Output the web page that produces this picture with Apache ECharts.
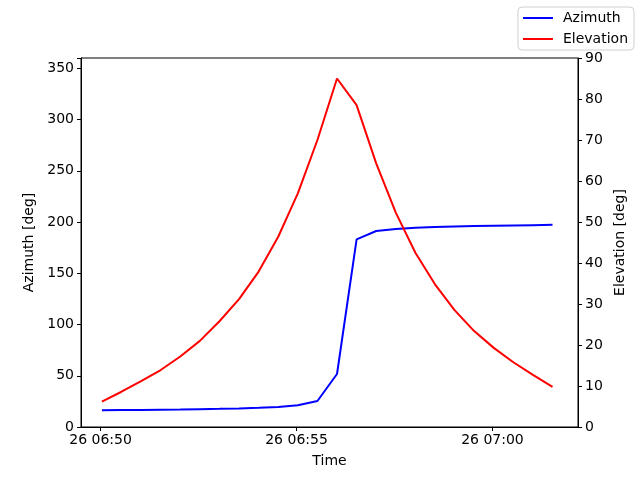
<!DOCTYPE html>
<html>
<head>
<meta charset="utf-8">
<script src="https://cdn.jsdelivr.net/npm/echarts@6/dist/echarts.min.js"></script>
<style>
  html, body { margin: 0; padding: 0; background: #fff; }
  #chartBox { width: 640px; height: 480px; }
</style>
</head>
<body>
<div id="chartBox"></div>
<script>
// sample times (day 26), every 30 s
const times = ['06:50:02','06:50:32','06:51:02','06:51:32','06:52:02','06:52:32',
  '06:53:02','06:53:32','06:54:02','06:54:32','06:55:02','06:55:32',
  '06:56:02','06:56:32','06:57:02','06:57:32','06:58:02','06:58:32',
  '06:59:02','06:59:32','07:00:02','07:00:32','07:01:02','07:01:32'];
const azimuth = [16.3, 16.5, 16.7, 16.9, 17.1, 17.4, 17.7, 18.1, 18.7, 19.6, 21.2, 25.4,
  51.7, 183.1, 191.2, 193.2, 194.5, 195.1, 195.7, 196.0, 196.3, 196.6, 196.9, 197.2];
const elevation = [6.2, 8.6, 11.2, 13.9, 17.2, 21.0, 25.8, 31.2, 37.9, 46.4, 57.0, 70.0,
  85.0, 78.5, 64.3, 52.3, 42.5, 34.8, 28.5, 23.4, 19.3, 15.8, 12.7, 9.8];
const timeTicks = ['06:50:00', '06:55:00', '07:00:00'];
const timeRange = ['06:49:30', '07:02:11'];

// times -> ms (UTC, 26th)
function toMs(t) {
  let p = t.split(':').map(Number);
  return Date.UTC(2024, 0, 26, p[0], p[1], p[2]);
}
function pad(n) { return (n < 10 ? '0' : '') + n; }

let xs = times.map(toMs);
let font = 'DejaVu Sans';

let myChart = echarts.init(document.getElementById('chartBox'));
let option = {
  backgroundColor: '#fff',
  animation: false,
  grid: {
    left: 81, right: 62, top: 58, bottom: 53,
    show: true, borderColor: '#000', borderWidth: 1, backgroundColor: 'transparent'
  },
  legend: {
    orient: 'vertical',
    right: 6, top: 7,
    data: ['Azimuth', 'Elevation'],
    icon: 'rect',
    itemWidth: 30, itemHeight: 2,
    itemGap: 7,
    padding: [4, 6, 4, 5],
    borderColor: '#d0d0d0', borderWidth: 1, borderRadius: 4,
    backgroundColor: '#fff',
    textStyle: { fontFamily: font, fontSize: 14, color: '#000', padding: [0, 0, 0, 5] }
  },
  xAxis: {
    type: 'value',
    min: toMs(timeRange[0]),
    max: toMs(timeRange[1]),
    name: 'Time',
    nameLocation: 'middle',
    nameGap: 27,
    nameTextStyle: { fontFamily: font, fontSize: 14, color: '#000' },
    axisLine: { onZero: false, lineStyle: { color: '#000' } },
    axisTick: { customValues: timeTicks.map(toMs), length: 4, lineStyle: { color: '#000' } },
    axisLabel: {
      customValues: timeTicks.map(toMs),
      fontFamily: font, fontSize: 14, color: '#000', margin: 6,
      formatter: function (v) {
        let d = new Date(v);
        return d.getUTCDate() + ' ' + pad(d.getUTCHours()) + ':' + pad(d.getUTCMinutes());
      }
    },
    splitLine: { show: false }
  },
  yAxis: [{
    type: 'value',
    min: 0, max: 360, interval: 50,
    name: 'Azimuth [deg]',
    nameLocation: 'middle',
    nameGap: 44,
    nameTextStyle: { fontFamily: font, fontSize: 14, color: '#000' },
    axisLine: { show: true, lineStyle: { color: '#000' } },
    axisTick: { show: true, length: 4, lineStyle: { color: '#000' } },
    axisLabel: { fontFamily: font, fontSize: 14, color: '#000', margin: 7,
      formatter: function (v) { return v > 350 ? '' : v; } },
    splitLine: { show: false }
  }, {
    type: 'value',
    min: 0, max: 90, interval: 10,
    position: 'right',
    name: 'Elevation [deg]',
    nameLocation: 'middle',
    nameGap: 31,
    nameRotate: 90,
    nameTextStyle: { fontFamily: font, fontSize: 14, color: '#000' },
    axisLine: { show: true, lineStyle: { color: '#000' } },
    axisTick: { show: true, length: 4, lineStyle: { color: '#000' } },
    axisLabel: { fontFamily: font, fontSize: 14, color: '#000', margin: 7 },
    splitLine: { show: false }
  }],
  series: [{
    name: 'Azimuth',
    type: 'line',
    yAxisIndex: 0,
    showSymbol: false,
    itemStyle: { color: '#0000ff' },
    lineStyle: { color: '#0000ff', width: 2 },
    data: xs.map((x, i) => [x, azimuth[i]])
  }, {
    name: 'Elevation',
    type: 'line',
    yAxisIndex: 1,
    showSymbol: false,
    itemStyle: { color: '#ff0000' },
    lineStyle: { color: '#ff0000', width: 2 },
    data: xs.map((x, i) => [x, elevation[i]])
  }]
};
myChart.setOption(option, true);
</script>
</body>
</html>
